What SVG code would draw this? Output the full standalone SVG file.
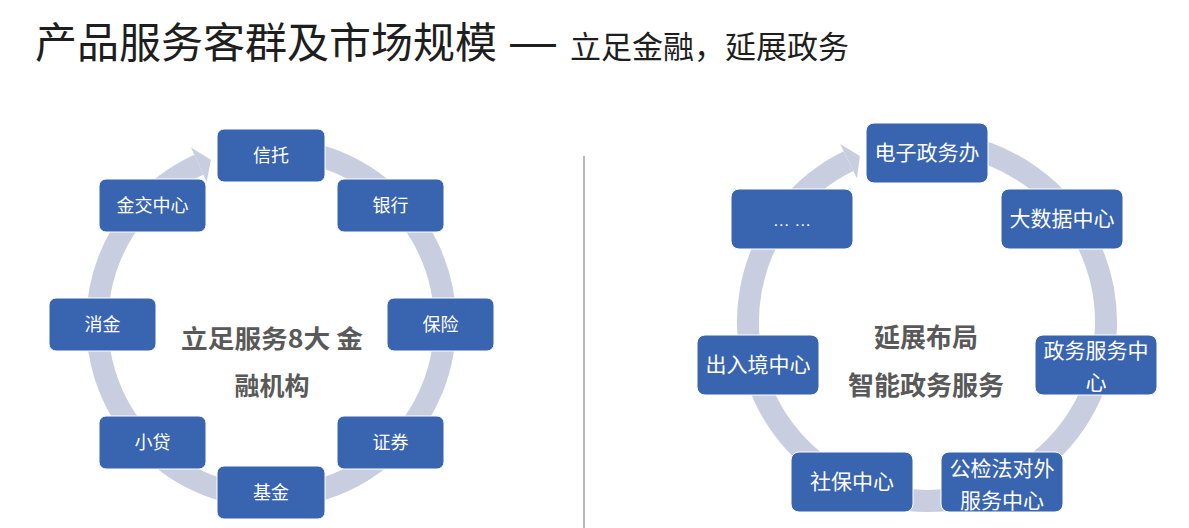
<svg xmlns="http://www.w3.org/2000/svg" width="1189" height="528" viewBox="0 0 1189 528">
<style>
.title{font-family:"Noto Sans CJK SC","Noto Sans",sans-serif;fill:#1e1e1e}
.ring{fill:none;stroke:#c8cde0;stroke-width:22}
.head{fill:#c8cde0}
.node{fill:#3864b0;stroke:#ffffff;stroke-width:1}
.lt{font-family:"Noto Sans CJK SC","Noto Sans",sans-serif;font-size:18px;fill:#ffffff;text-anchor:middle}
.rt{font-family:"Noto Sans CJK SC","Noto Sans",sans-serif;font-size:21px;fill:#ffffff;text-anchor:middle}
.ct{font-family:"Noto Sans CJK SC","Noto Sans",sans-serif;font-weight:bold;fill:#595959;text-anchor:middle}
</style>
<rect width="1189" height="528" fill="#ffffff"/>
<text class="title" x="35" y="58" font-size="42">产品服务客群及市场规模</text>
<text x="510" y="57" font-family="Liberation Sans, sans-serif" font-size="46" fill="#1e1e1e">—</text>
<text class="title" x="570" y="58" font-size="31">立足金融，延展政务</text>
<line x1="584" y1="156" x2="584" y2="528" stroke="#8a8a8a" stroke-width="1.2"/>

<g id="connectors">
  <path class="ring" d="M 301.2 151.6 A 174 174 0 1 1 198.8 164.7"/>
  <polygon class="head" points="191,147.4 210.9,159.7 206.7,181.9"/>
  <path class="ring" d="M 958.1 145.7 A 179 179 0 1 1 848.5 161.1"/>
  <polygon class="head" points="840.2,144 859.9,156 856.9,178.2"/>
</g>

<g id="left-center">
  <text class="ct" x="272" y="348" font-size="25" textLength="182" lengthAdjust="spacingAndGlyphs">立足服务8大 金</text>
  <text class="ct" x="272" y="395" font-size="25">融机构</text>
</g>
<g id="n-xintuo"><rect class="node" x="217" y="129" width="108" height="53" rx="7"/><text class="lt" x="271" y="162">信托</text></g>
<g id="n-yinhang"><rect class="node" x="337" y="179" width="107" height="53" rx="7"/><text class="lt" x="390.5" y="212">银行</text></g>
<g id="n-baoxian"><rect class="node" x="387" y="298" width="107" height="53" rx="7"/><text class="lt" x="440.5" y="331">保险</text></g>
<g id="n-zhengquan"><rect class="node" x="337" y="416" width="107" height="53" rx="7"/><text class="lt" x="390.5" y="449">证券</text></g>
<g id="n-jijin"><rect class="node" x="217" y="466" width="108" height="53" rx="7"/><text class="lt" x="271" y="499">基金</text></g>
<g id="n-xiaodai"><rect class="node" x="99" y="416" width="107" height="53" rx="7"/><text class="lt" x="152.5" y="449">小贷</text></g>
<g id="n-xiaojin"><rect class="node" x="49" y="298" width="107" height="53" rx="7"/><text class="lt" x="102.5" y="331">消金</text></g>
<g id="n-jinjiao"><rect class="node" x="99" y="179" width="107" height="53" rx="7"/><text class="lt" x="152.5" y="212">金交中心</text></g>

<g id="right-center">
  <text class="ct" x="926" y="347" font-size="26">延展布局</text>
  <text class="ct" x="926" y="395" font-size="26">智能政务服务</text>
</g>
<g id="n-dianzi"><rect class="node" x="866" y="123" width="122" height="60" rx="8"/><text class="rt" x="927" y="160">电子政务办</text></g>
<g id="n-dashuju"><rect class="node" x="1001" y="189" width="122" height="60" rx="8"/><text class="rt" x="1062" y="226">大数据中心</text></g>
<g id="n-zhengwu"><rect class="node" x="1035" y="335" width="122" height="60" rx="8"/><text class="rt" x="1096" y="358">政务服务中</text><text class="rt" x="1096" y="390">心</text></g>
<g id="n-gongjianfa"><rect class="node" x="941" y="452" width="122" height="60" rx="8"/><text class="rt" x="1002" y="476">公检法对外</text><text class="rt" x="1002" y="508">服务中心</text></g>
<g id="n-shebao"><rect class="node" x="791" y="452" width="122" height="60" rx="8"/><text class="rt" x="852" y="489">社保中心</text></g>
<g id="n-churujing"><rect class="node" x="697" y="335" width="122" height="60" rx="8"/><text class="rt" x="758" y="372">出入境中心</text></g>
<g id="n-more"><rect class="node" x="731" y="189" width="122" height="60" rx="8"/><text x="792" y="226" font-family="Liberation Sans, sans-serif" font-size="17" fill="#ffffff" text-anchor="middle">… …</text></g>
</svg>
